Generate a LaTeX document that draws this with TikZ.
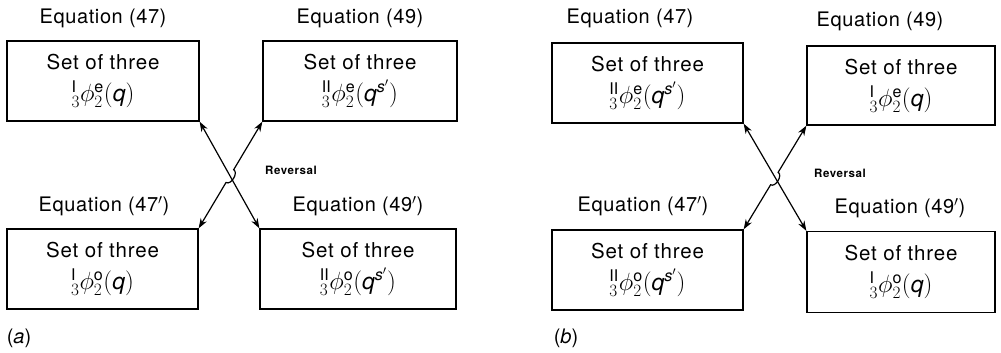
\documentclass[tikz,border=0pt]{standalone}
\usepackage{fontspec}
\setmainfont{TeX Gyre Heros}
\usetikzlibrary{calc,arrows.meta}
\newcommand{\phiset}[3]{{\fontsize{23}{26}\selectfont$_{3}^{\mathrm{#1}}\phi_{2}^{\mathrm{#2}}(#3)$}}
\begin{document}
\begin{tikzpicture}[x=1pt,y=-1pt,
  box/.style={draw,line width=1.3pt,inner sep=0pt,align=center,
    font=\fontsize{20.5}{32}\selectfont\addfontfeature{LetterSpace=4}},
  eqlab/.style={font=\fontsize{20}{23}\selectfont\addfontfeature{LetterSpace=3}},
  revlab/.style={font=\fontsize{11.5}{13}\selectfont\bfseries\addfontfeature{LetterSpace=5}},
  conn/.style={line width=1.2pt,{Stealth[length=10pt,width=7pt]}-{Stealth[length=10pt,width=7pt]}},
  panlab/.style={font=\fontsize{20}{23}\selectfont}
]
\useasboundingbox (0,0) rectangle (1001,353);
% ---------- panel (a)
\node[box,minimum width=192pt,minimum height=80pt] (atl) at (103,81)
  {Set of three\\ \phiset{I}{e}{\mathit{q}}};
\node[box,minimum width=194pt,minimum height=80pt] (atr) at (360,81)
  {Set of three\\ \phiset{II}{e}{\mathit{q}^{\mathit{s}'}}};
\node[box,minimum width=191pt,minimum height=80pt] (abl) at (102.5,269)
  {Set of three\\ \phiset{I}{o}{\mathit{q}}};
\node[box,minimum width=196pt,minimum height=80pt] (abr) at (358,269)
  {Set of three\\ \phiset{II}{o}{\mathit{q}^{\mathit{s}'}}};
\node[eqlab] (aeq47) at (103,18) {Equation (47)};
\node[eqlab] (aeq49) at (360,18) {Equation (49)};
\node[eqlab] (aeq47p) at (104,206) {Equation (47$'$)};
\node[eqlab] (aeq49p) at (358,206) {Equation (49$'$)};
\node[revlab] (arev) at (291,170) {Reversal};
\node[panlab] (apan) at (19,338) {(\textit{a})};
\draw[conn] (atl.south east) -- (abr.north west);
\draw[conn] (abl.north east) -- ($(abl.north east)!0.43!(atr.south west)$)
  to[bend right=90] ($(abl.north east)!0.55!(atr.south west)$) -- (atr.south west);
% ---------- panel (b)
\node[box,minimum width=191pt,minimum height=80pt] (btl) at (647.5,83)
  {Set of three\\ \phiset{II}{e}{\mathit{q}^{\mathit{s}'}}};
\node[box,minimum width=188pt,minimum height=79pt] (btr) at (901,85.5)
  {Set of three\\ \phiset{I}{e}{\mathit{q}}};
\node[box,minimum width=191pt,minimum height=80pt] (bbl) at (647.5,270)
  {Set of three\\ \phiset{II}{o}{\mathit{q}^{\mathit{s}'}}};
\node[box,minimum width=188pt,minimum height=81pt] (bbr) at (901,272)
  {Set of three\\ \phiset{I}{o}{\mathit{q}}};
\node[eqlab] (beq47) at (630,18) {Equation (47)};
\node[eqlab] (beq49) at (880,21) {Equation (49)};
\node[eqlab] (beq47p) at (643,206) {Equation (47$'$)};
\node[eqlab] (beq49p) at (900,208) {Equation (49$'$)};
\node[revlab] (brev) at (840,173) {Reversal};
\node[panlab] (bpan) at (566,338) {(\textit{b})};
\draw[conn] (btl.south east) -- (bbr.north west);
\draw[conn] (bbl.north east) -- ($(bbl.north east)!0.43!(btr.south west)$)
  to[bend right=90] ($(bbl.north east)!0.55!(btr.south west)$) -- (btr.south west);
\end{tikzpicture}
\end{document}
